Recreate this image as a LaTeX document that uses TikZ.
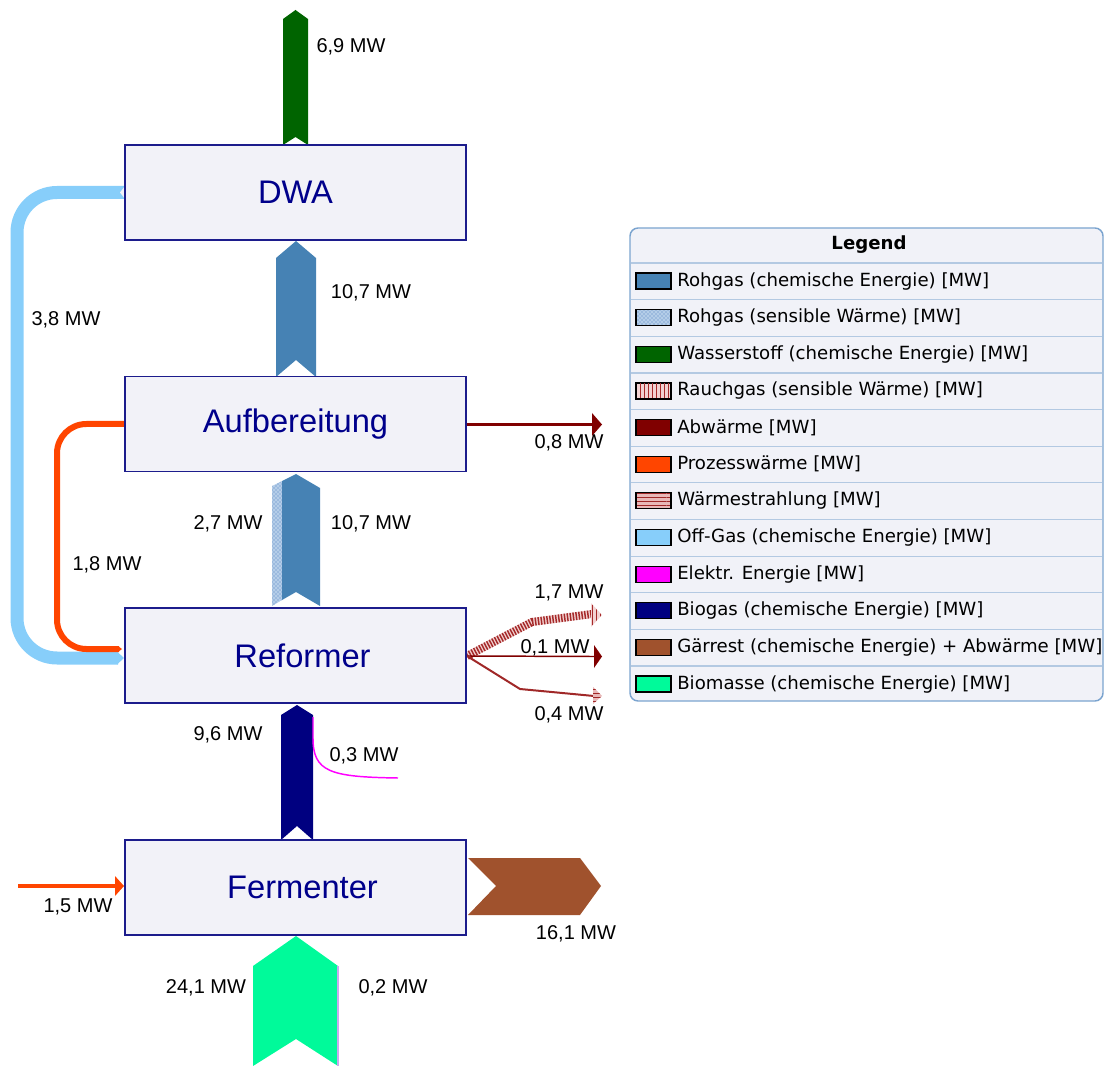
\documentclass[tikz,border=0pt]{standalone}
\usepackage{fontspec}
\setmainfont{Liberation Sans}
\newfontfamily\legendfont{DejaVu Sans}
\usepackage{tikz}
\usetikzlibrary{patterns}
\definecolor{boxline}{HTML}{1C1C8C}
\definecolor{boxfill}{HTML}{F2F2F8}
\definecolor{boxtext}{HTML}{00008B}
\definecolor{rohgas}{HTML}{4682B4}
\definecolor{rsfill}{HTML}{B4CDE8}
\definecolor{rsdots}{HTML}{4F7FBF}
\definecolor{wasserstoff}{HTML}{006400}
\definecolor{rgfill}{HTML}{F2D2D2}
\definecolor{rgline}{HTML}{A52A2A}
\definecolor{abwaerme}{HTML}{800000}
\definecolor{prozess}{HTML}{FF4500}
\definecolor{wsfill}{HTML}{E8B8B8}
\definecolor{wsline}{HTML}{A02828}
\definecolor{offgas}{HTML}{87CEFA}
\definecolor{elektr}{HTML}{FF00FF}
\definecolor{biogas}{HTML}{000080}
\definecolor{gaerrest}{HTML}{A0522D}
\definecolor{biomasse}{HTML}{00FA9A}
\definecolor{lila}{HTML}{C8A8F0}
\definecolor{legframe}{HTML}{7BA4CF}
\definecolor{legfill}{HTML}{F1F2F8}
\definecolor{legsep}{HTML}{B3C9E2}
\tikzset{>=latex}
\tikzstyle{unit} = [rectangle, draw=boxline, fill=boxfill, line width=1.1pt, minimum width=255.75pt, minimum height=71.25pt, text=boxtext, font=\fontsize{24.5}{28}\selectfont]
\tikzstyle{mw} = [font=\fontsize{15}{18}\selectfont, inner sep=0pt]
\tikzstyle{swatch} = [draw=black, line width=0.9pt]
\tikzstyle{legtext} = [anchor=west, inner sep=0pt, font=\legendfont\fontsize{13.6}{16}\selectfont]

\begin{document}
\begin{tikzpicture}[x=0.75pt, y=-0.75pt]
\useasboundingbox (0,0) rectangle (1104,1066);
% vertical flows
\fill [wasserstoff] (283,145) -- (283,19) -- (295.5,10) -- (308,19) -- (308,145) -- (295.5,137) -- cycle;
\fill [rohgas] (276,377) -- (276,258) -- (296,241) -- (316,258) -- (316,377) -- (296,360) -- cycle;
\fill [rsfill] (272,606) -- (272,486) -- (282,481) -- (282,600) -- cycle;
\fill [pattern=crosshatch dots, pattern color=rsdots] (272,606) -- (272,486) -- (282,481) -- (282,600) -- cycle;
\fill [rohgas] (282,600) -- (282,481) -- (296,474) -- (320,488) -- (320,606) -- (296,592) -- cycle;
\fill [biogas] (281,840) -- (281,715) -- (297,705) -- (313,715) -- (313,840) -- (297,826) -- cycle;
\fill [biomasse] (253,1066) -- (253,966) -- (296,936) -- (338,966) -- (338,1066) -- (296,1039) -- cycle;
\draw [lila, line width=1.1pt] (338,966) -- (338,1066);
\draw [elektr, line width=1.1pt] (313,717) -- (313,738) .. controls (313,772) and (330,777) .. (398,778);
% side flows
\draw [offgas, line width=9.75pt, rounded corners=30pt] (124,192.5) -- (17,192.5) -- (17,658) -- (118,658);
\fill [offgas] (117,651.5) -- (124,658) -- (117,664.5) -- cycle;
\fill [boxfill] (125,186) -- (120,192.5) -- (125,199) -- cycle;
\draw [prozess, line width=4.5pt, rounded corners=22pt] (124,424) -- (57,424) -- (57,649) -- (119,649);
\fill [prozess] (118,646) -- (122,649) -- (118,652) -- cycle;
\draw [prozess, line width=3pt] (18,886) -- (116,886);
\fill [prozess] (115,876) -- (124,886) -- (115,896) -- cycle;
\draw [abwaerme, line width=2.25pt] (467,425) -- (593,425);
\fill [abwaerme] (592,413) -- (602,424.5) -- (592,436) -- cycle;
\fill [gaerrest] (468,858) -- (580,858) -- (601,886) -- (580,915) -- (468,915) -- (496,886) -- cycle;
% reformer losses
\coordinate (ro) at (467,656);
\draw [rgfill, line width=6pt, line join=round] (ro) -- (532,622) -- (592,614);
\draw [rgline, line width=6pt, dash pattern=on 1.1pt off 1.1pt] (ro) -- (532,622) -- (592,614);
\fill [rgfill] (591,603) -- (602,615) -- (591,627) -- cycle;
\fill [pattern=vertical lines, pattern color=rgline] (591,603) -- (602,615) -- (591,627) -- cycle;
\draw [abwaerme, line width=1.1pt] (ro) -- (594,656.5);
\fill [abwaerme] (594,645) -- (602,656.5) -- (594,668) -- cycle;
\draw [wsline, line width=1.5pt] (ro) -- (520,689) -- (594,696);
\fill [wsfill] (593,687) -- (602,696) -- (593,704) -- cycle;
\fill [pattern=horizontal lines, pattern color=wsline] (593,687) -- (602,696) -- (593,704) -- cycle;
% units
\node [unit] (DWA) at (295.5,192.5) {DWA};
\node [unit] (Aufb) at (295.5,424) {Aufbereitung};
\node [unit] (Ref) at (295.5,655.5) {\hspace{10.5pt}Reformer};
\node [unit] (Ferm) at (295.5,887.5) {\hspace{10.5pt}Fermenter};
% values
\node [mw] (v69) at (351,47) {6,9 MW};
\node [mw] (v107a) at (371,293) {10,7 MW};
\node [mw] (v38) at (66,320) {3,8 MW};
\node [mw] (v08) at (569,443) {0,8 MW};
\node [mw] (v27) at (228,524) {2,7 MW};
\node [mw] (v107b) at (371,524) {10,7 MW};
\node [mw] (v18) at (107,565) {1,8 MW};
\node [mw] (v17) at (569,593) {1,7 MW};
\node [mw] (v01) at (555,648) {0,1 MW};
\node [mw] (v04) at (569,715) {0,4 MW};
\node [mw] (v96) at (228,735) {9,6 MW};
\node [mw] (v03) at (364,756) {0,3 MW};
\node [mw] (v15) at (78,907) {1,5 MW};
\node [mw] (v161) at (576,934) {16,1 MW};
\node [mw] (v241) at (206,988) {24,1 MW};
\node [mw] (v02) at (393,988) {0,2 MW};
% legend
\draw [legframe, fill=legfill, line width=1.1pt, rounded corners=6pt] (630,228) rectangle (1103,701);
\node [font=\legendfont\bfseries\fontsize{13.6}{16}\selectfont, inner sep=0pt] (legtitle) at (869,245) {Legend};
\foreach \i in {0,...,11}
  \draw [legsep, line width=0.9pt] (631,263+36.64*\i) -- (1102,263+36.64*\i);
\foreach \c [count=\i from 0] in {rohgas, rsfill, wasserstoff, rgfill, abwaerme, prozess, wsfill, offgas, elektr, biogas, gaerrest, biomasse}
  \draw [swatch, fill=\c] (636,273+36.64*\i) rectangle (671,289+36.64*\i);
\fill [pattern=crosshatch dots, pattern color=rsdots] (636,309.6) rectangle (671,325.6);
\fill [pattern=vertical lines, pattern color=rgline] (636,382.9) rectangle (671,398.9);
\fill [pattern=horizontal lines, pattern color=wsline] (636,492.8) rectangle (671,508.8);
\draw [swatch] (636,309.6) rectangle (671,325.6);
\draw [swatch] (636,382.9) rectangle (671,398.9);
\draw [swatch] (636,492.8) rectangle (671,508.8);
\foreach \t [count=\i from 0] in {Rohgas (chemische Energie) [MW], Rohgas (sensible Wärme) [MW], Wasserstoff (chemische Energie) [MW], Rauchgas (sensible Wärme) [MW], Abwärme [MW], Prozesswärme [MW], Wärmestrahlung [MW], Off-Gas (chemische Energie) [MW], Elektr. Energie [MW], Biogas (chemische Energie) [MW], Gärrest (chemische Energie) + Abwärme [MW], Biomasse (chemische Energie) [MW]}
  \node [legtext] (leg\i) at (677,281+36.64*\i) {\t};
\end{tikzpicture}
\end{document}
